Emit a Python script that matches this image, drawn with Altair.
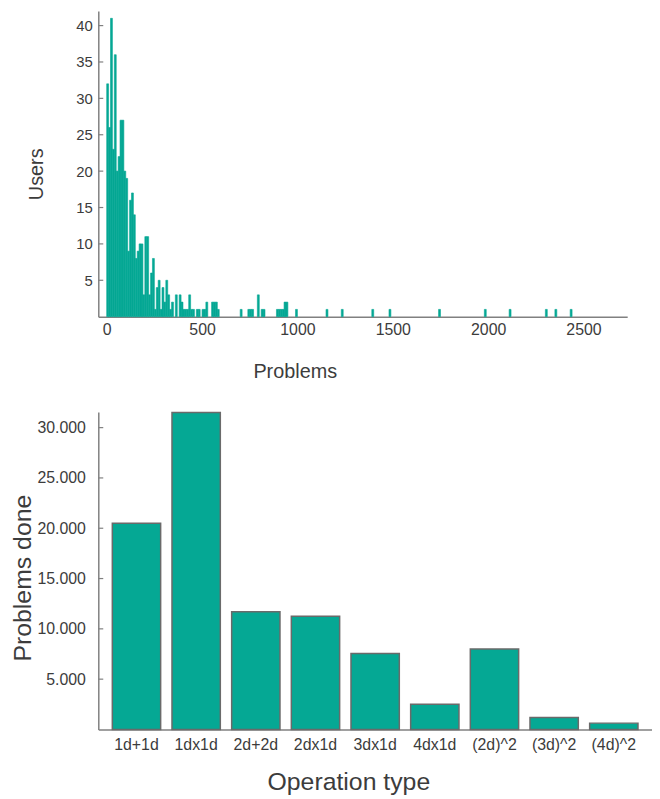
import altair as alt
import pandas as pd

# ---------------- data ----------------
# Histogram: number of users per bin of 10 problems (bin start values)
BIN_WIDTH = 10
bin_start = [0, 10, 20, 30, 40, 50, 60, 70, 80, 90,
             100, 110, 120, 130, 140, 150, 160, 170, 180, 190,
             200, 210, 220, 230, 240, 250, 260, 270, 280, 290,
             300, 310, 320, 330, 340, 360, 380, 390,
             400, 410, 420, 430, 440, 450, 470, 480, 500, 510, 520,
             550, 560, 570, 580, 700, 740, 750, 760, 790, 810, 820,
             890, 900, 910, 920, 930, 940, 990,
             1150, 1230, 1390, 1480, 1740, 1980, 2110, 2300, 2350, 2430]
users = [32, 26, 41, 23, 36, 20, 22, 27, 27, 20,
         19, 9, 16, 17, 14, 8, 9, 10, 10, 3,
         11, 11, 3, 6, 8, 1, 4, 5, 1, 4,
         2, 5, 3, 1, 2, 3, 3, 2,
         1, 1, 1, 3, 1, 1, 1, 1, 1, 1, 2,
         2, 2, 2, 1, 1, 1, 1, 1, 3, 1, 1,
         1, 1, 1, 1, 2, 2, 1,
         1, 1, 1, 1, 1, 1, 1, 1, 1, 1]

top_x_ticks = [0, 500, 1000, 1500, 2000, 2500]
top_y_ticks = [5, 10, 15, 20, 25, 30, 35, 40]

# Bar chart: problems done per operation type
op_types = ["1d+1d", "1dx1d", "2d+2d", "2dx1d", "3dx1d", "4dx1d", "(2d)^2", "(3d)^2", "(4d)^2"]
problems_done = [20500, 31500, 11700, 11250, 7550, 2500, 8000, 1200, 630]
bottom_y_ticks = [5000, 10000, 15000, 20000, 25000, 30000]

# ---------------- style ----------------
TEAL = "#05a894"
AXIS_GREY = "#808080"
TEXT = "#3c3c3c"
FONT = "Liberation Sans"

# ---------------- top histogram ----------------
hist_df = pd.DataFrame({"start": bin_start, "users": users})
hist_df["end"] = hist_df["start"] + BIN_WIDTH

top_xs = alt.Scale(domain=[-44, 2729], nice=False, zero=False)
top_ys = alt.Scale(domain=[0, 42], nice=False)

top_x_axis = alt.Axis(values=top_x_ticks, format="d", title="Problems", grid=False,
                      ticks=False, tickSize=0, domainColor=AXIS_GREY, domainWidth=1.5,
                      labelFontSize=16, labelPadding=5, labelColor=TEXT,
                      titleFontSize=20, titleFontWeight="normal", titleColor=TEXT,
                      titleX=198, titleY=61, titleBaseline="alphabetic")
top_y_axis = alt.Axis(values=top_y_ticks, title="Users", grid=False,
                      ticks=False, tickSize=0, domainColor=AXIS_GREY, domainWidth=1.5,
                      labelFontSize=15, labelPadding=6, labelColor=TEXT,
                      titleFontSize=20, titleFontWeight="normal", titleColor=TEXT,
                      titleX=-62, titleY=164, titleBaseline="middle")

hist = alt.Chart(hist_df).mark_bar(color=TEAL, stroke=TEAL, strokeWidth=0.6).encode(
    x=alt.X("start:Q", scale=top_xs, axis=top_x_axis),
    x2="end:Q",
    y=alt.Y("users:Q", scale=top_ys, axis=top_y_axis),
    y2=alt.datum(0),
)

top_tick_marks = alt.Chart(pd.DataFrame({"users": top_y_ticks})).mark_rule(
    color=AXIS_GREY, strokeWidth=1.2
).encode(
    y=alt.Y("users:Q", scale=top_ys, axis=top_y_axis),
    x=alt.value(0), x2=alt.value(5),
)

top = alt.layer(hist, top_tick_marks).properties(width=533, height=308)

# ---------------- bottom bar chart ----------------
bar_df = pd.DataFrame({"op": op_types, "done": problems_done})
bot_ys = alt.Scale(domain=[0, 31560], nice=False)

bot_x_axis = alt.Axis(title="Operation type", labelAngle=0, grid=False,
                      ticks=False, tickSize=0, domainColor=AXIS_GREY, domainWidth=1.5,
                      labelFontSize=16, labelPadding=7, labelColor=TEXT,
                      titleFontSize=25, titleFontWeight="normal", titleColor=TEXT,
                      titleX=252, titleY=61, titleBaseline="alphabetic")
bot_y_axis = alt.Axis(values=bottom_y_ticks, title="Problems done", grid=False,
                      labelExpr="replace(format(datum.value, ','), ',', '.')",
                      ticks=False, tickSize=0, domainColor=AXIS_GREY, domainWidth=1.5,
                      labelFontSize=16, labelPadding=13, labelColor=TEXT,
                      titleFontSize=25, titleFontWeight="normal", titleColor=TEXT,
                      titleX=-76, titleY=167, titleBaseline="middle")

bars = alt.Chart(bar_df).mark_bar(color=TEAL, stroke="#6a6a6a", strokeWidth=1.5).encode(
    x=alt.X("op:N", sort=op_types,
            scale=alt.Scale(paddingInner=0.19, paddingOuter=0.235),
            axis=bot_x_axis),
    y=alt.Y("done:Q", scale=bot_ys, axis=bot_y_axis),
)

bot_tick_marks = alt.Chart(pd.DataFrame({"done": bottom_y_ticks})).mark_rule(
    color=AXIS_GREY, strokeWidth=1.2
).encode(
    y=alt.Y("done:Q", scale=bot_ys, axis=bot_y_axis),
    x=alt.value(0), x2=alt.value(5),
)

bottom = alt.layer(bars, bot_tick_marks).properties(width=558, height=320)

chart = alt.vconcat(top, bottom, spacing=96, bounds="flush").properties(
    padding={"left": 3, "top": 0, "right": 0, "bottom": 0}
).configure(font=FONT).configure_view(stroke=None)

chart.save("out.html", embed_options={"renderer": "svg", "actions": False})
